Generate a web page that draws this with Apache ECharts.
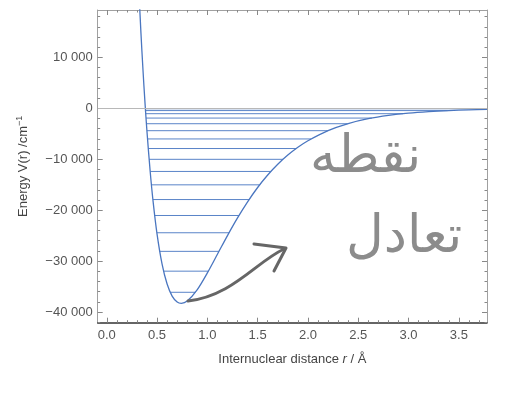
<!DOCTYPE html>
<html>
<head>
<meta charset="utf-8">
<script src="https://cdn.jsdelivr.net/npm/echarts@6/dist/echarts.min.js"></script>
<style>
html,body{margin:0;padding:0;background:#fff;}
#chart{width:510px;height:394px;}
</style>
</head>
<body>
<div id="chart"></div>
<script>
// Potential energy curve
const rValues = [0.32, 0.34, 0.36, 0.38, 0.40, 0.43, 0.46, 0.50, 0.55, 0.60, 0.65, 0.70, 0.741, 0.80, 0.90, 1.00, 1.10, 1.20, 1.30, 1.40, 1.50, 1.60, 1.70, 1.80, 1.90, 2.00, 2.20, 2.40, 2.60, 2.80, 3.00, 3.20, 3.40, 3.60, 3.78];
const energyValues = [22800, 14760, 7560, 1120, -4620, -12020, -18170, -24690, -30590, -34510, -36870, -38040, -38300, -37850, -35600, -32320, -28660, -24990, -21520, -18360, -15550, -13100, -10990, -9190, -7660, -6370, -4380, -3000, -2050, -1400, -950, -650, -440, -300, -210];

// Vibrational levels: energy and left / right ends
const levelEnergy = [-36130, -31980, -28090, -24440, -21050, -17920, -15030, -12400, -10020, -7900, -6020, -4400, -3030, -1920, -1060, -450, -90];
const levelLeft  = [0.631, 0.565, 0.526, 0.498, 0.476, 0.459, 0.444, 0.432, 0.421, 0.413, 0.405, 0.399, 0.394, 0.390, 0.387, 0.385, 0.384];
const levelRight = [0.881, 1.010, 1.116, 1.215, 1.314, 1.415, 1.520, 1.632, 1.752, 1.883, 2.030, 2.198, 2.395, 2.635, 2.945, 3.390, 3.780];

// Ticks
const xTicks = [0, 0.5, 1.0, 1.5, 2.0, 2.5, 3.0, 3.5];
const xMinorTicks = [0.1,0.2,0.3,0.4,0.6,0.7,0.8,0.9,1.1,1.2,1.3,1.4,1.6,1.7,1.8,1.9,2.1,2.2,2.3,2.4,2.6,2.7,2.8,2.9,3.1,3.2,3.3,3.4,3.6,3.7];
const yTicks = [-40000, -30000, -20000, -10000, 0, 10000];
const yMinorTicks = [-42000,-38000,-36000,-34000,-32000,-28000,-26000,-24000,-22000,-18000,-16000,-14000,-12000,-8000,-6000,-4000,-2000,2000,4000,6000,8000,12000,14000,16000,18000];

// Handwritten annotation words
const noteWords = ['نقطه', 'تعادل'];

const X_MIN = -0.09, X_MAX = 3.78, Y_MIN = -42100, Y_MAX = 19300;
const FONT = '"Liberation Sans", Arial, sans-serif';
const CURVE = '#4a76c0';
const LEVEL = '#5a84c8';
const FRAME = '#a0a0a0';

function fmtY(v) {
  if (v === 0) return '0';
  const a = Math.abs(v);
  const s = String(a).replace(/\B(?=(\d{3})+(?!\d))/g, ' ');
  return (v < 0 ? '\u2212' : '') + s;
}

function xAxisDef(pos, major, withLabel) {
  return {
    type: 'value', position: pos, min: X_MIN, max: X_MAX,
    axisLine: { show: major, onZero: false, lineStyle: pos === 'bottom' ? { color: '#333', width: 1.5 } : { color: FRAME, width: 1 } },
    axisTick: { show: true, inside: true, length: major ? 5 : 2.5, customValues: major ? xTicks : xMinorTicks, lineStyle: { color: '#888', width: 1 } },
    axisLabel: withLabel ? { show: true, customValues: xTicks, formatter: v => v.toFixed(1), color: '#555', fontFamily: FONT, fontSize: 13, margin: 6 } : { show: false },
    splitLine: { show: false },
    name: withLabel ? 'Internuclear distance {i|r} / Å' : '',
    nameLocation: 'middle', nameGap: 30,
    nameTextStyle: { color: '#444', fontFamily: FONT, fontSize: 13, rich: { i: { fontStyle: 'italic', fontFamily: FONT, fontSize: 13, color: '#444' } } }
  };
}
function yAxisDef(pos, major, withLabel) {
  return {
    type: 'value', position: pos, min: Y_MIN, max: Y_MAX,
    axisLine: { show: major, onZero: false, lineStyle: { color: FRAME, width: 1 } },
    axisTick: { show: true, inside: true, length: major ? 5 : 2.5, customValues: major ? yTicks : yMinorTicks, lineStyle: { color: '#888', width: 1 } },
    axisLabel: withLabel ? { show: true, customValues: yTicks, formatter: fmtY, color: '#555', fontFamily: FONT, fontSize: 13, margin: 5 } : { show: false },
    splitLine: { show: false },
    name: withLabel ? 'Energy V(r) /cm{s|\u22121}' : '',
    nameLocation: 'middle', nameGap: 66, nameRotate: 90,
    nameTextStyle: { color: '#444', fontFamily: FONT, fontSize: 13, rich: { s: { fontSize: 9, verticalAlign: 'top', padding: [0, 0, 8, 0], fontFamily: FONT, color: '#444' } } }
  };
}

const series = [];
series.push({
  type: 'line', xAxisIndex: 0, yAxisIndex: 0, data: [], z: 1, silent: true,
  markLine: { silent: true, symbol: 'none', label: { show: false }, lineStyle: { color: '#b8b8b8', type: 'solid', width: 1 }, data: [{ yAxis: 0 }] }
});
for (let i = 0; i < levelEnergy.length; i++) {
  series.push({
    type: 'line', xAxisIndex: 0, yAxisIndex: 0, showSymbol: false, silent: true, z: 2,
    lineStyle: { color: LEVEL, width: 1 },
    data: [[levelLeft[i], levelEnergy[i]], [levelRight[i], levelEnergy[i]]]
  });
}
series.push({
  type: 'line', xAxisIndex: 0, yAxisIndex: 0, showSymbol: false, smooth: 0.3, silent: true, z: 3, clip: true,
  lineStyle: { color: CURVE, width: 1.3 },
  data: rValues.map((r, i) => [r, energyValues[i]])
});

const chart = echarts.init(document.getElementById('chart'), null, { renderer: 'canvas' });
chart.setOption({
  animation: false,
  backgroundColor: '#fff',
  grid: { left: 97.7, right: 23, top: 10, bottom: 71.3, containLabel: false },
  xAxis: [xAxisDef('bottom', true, true), xAxisDef('bottom', false, false), xAxisDef('top', true, false), xAxisDef('top', false, false)],
  yAxis: [yAxisDef('left', true, true), yAxisDef('left', false, false), yAxisDef('right', true, false), yAxisDef('right', false, false)],
  series: series,
  graphic: [
    { type: 'bezierCurve', silent: true, z: 10,
      shape: { x1: 188, y1: 301, cpx1: 232, cpy1: 296, cpx2: 256, cpy2: 262, x2: 284, y2: 249 },
      style: { stroke: '#666', lineWidth: 3, lineCap: 'round', fill: null } },
    { type: 'polyline', silent: true, z: 10,
      shape: { points: [[254, 244], [286, 248], [274, 271]] },
      style: { stroke: '#666', lineWidth: 3, lineCap: 'round', lineJoin: 'round', fill: null } },
    { type: 'text', silent: true, z: 10, left: 310, top: 132,
      style: { text: noteWords[0], fontSize: 52, fontFamily: '"DejaVu Sans", sans-serif', fill: '#8c8c8c' } },
    { type: 'text', silent: true, z: 10, left: 346, top: 212,
      style: { text: noteWords[1], fontSize: 52, fontFamily: '"DejaVu Sans", sans-serif', fill: '#8c8c8c' } }
  ]
});
</script>
</body>
</html>
